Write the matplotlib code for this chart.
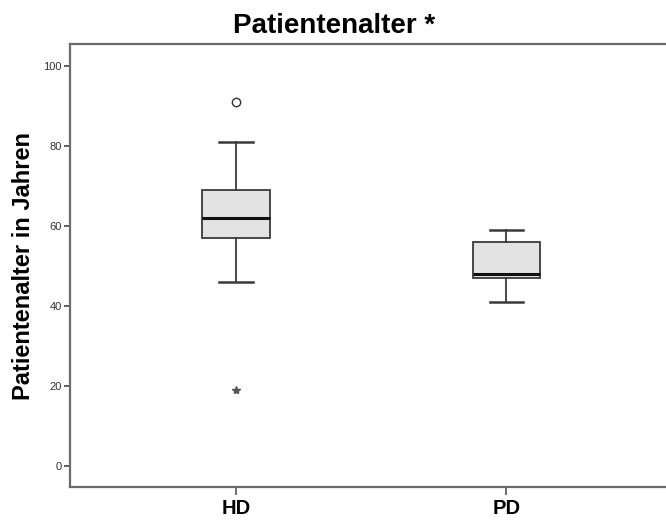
import matplotlib.pyplot as plt

plt.rcParams['font.family'] = ['Liberation Sans', 'DejaVu Sans']

# Altersverteilung je Gruppe (Kennwerte des Boxplots)
groups = ["HD", "PD"]
whisker_low = [46, 41]
q1 = [57, 47]
median = [62, 48]
q3 = [69, 56]
whisker_high = [81, 59]
outliers = [[91], []]          # Ausreisser (Kreis)
extremes = [[19], []]          # Extremwerte (Stern)

stats = []
for i, g in enumerate(groups):
    stats.append({"label": g, "whislo": whisker_low[i], "q1": q1[i], "med": median[i],
                  "q3": q3[i], "whishi": whisker_high[i], "fliers": outliers[i]})

fig = plt.figure(figsize=(6.66, 5.23), dpi=100)
ax = fig.add_axes([70/666, 36/523, 596/666, 443/523])

pos = [1, 2]
ax.bxp(stats, positions=pos, widths=0.25, patch_artist=True,
       boxprops=dict(facecolor="#e3e3e3", edgecolor="#3a3a3a", linewidth=1.3),
       medianprops=dict(color="#111111", linewidth=2.2),
       whiskerprops=dict(color="#3a3a3a", linewidth=1.3),
       capprops=dict(color="#3a3a3a", linewidth=1.8),
       flierprops=dict(marker="o", markerfacecolor="none", markeredgecolor="#333333",
                       markersize=6, markeredgewidth=1.0))

for p, ext in zip(pos, extremes):
    ax.plot([p] * len(ext), ext, linestyle="none", marker="*", color="#555555", markersize=6)

ax.set_xlim(0.386, 2.59)
ax.set_ylim(-5.25, 105.5)
ax.set_yticks([0, 20, 40, 60, 80, 100])
ax.set_xticks(pos)
ax.set_xticklabels(groups, fontsize=14.5, fontweight="bold")
ax.tick_params(axis="y", labelsize=8, colors="#444444", length=4, width=1.2, pad=2)
ax.tick_params(axis="x", length=6, width=1.2, colors="#555555", pad=3)
for lab in ax.get_xticklabels():
    lab.set_color("black")
for lab in ax.get_yticklabels():
    lab.set_color("#333333")

for s in ["left", "bottom", "top"]:
    ax.spines[s].set_color("#6b6b6b")
    ax.spines[s].set_linewidth(1.6)
ax.spines["right"].set_visible(False)

ax.set_ylabel("Patientenalter in Jahren", fontsize=17, fontweight="bold", labelpad=6)
fig.text(334/666, 1 - 33/523, "Patientenalter *", ha="center", va="baseline",
         fontsize=20, fontweight="bold")

fig.savefig("out.png", dpi=100)
